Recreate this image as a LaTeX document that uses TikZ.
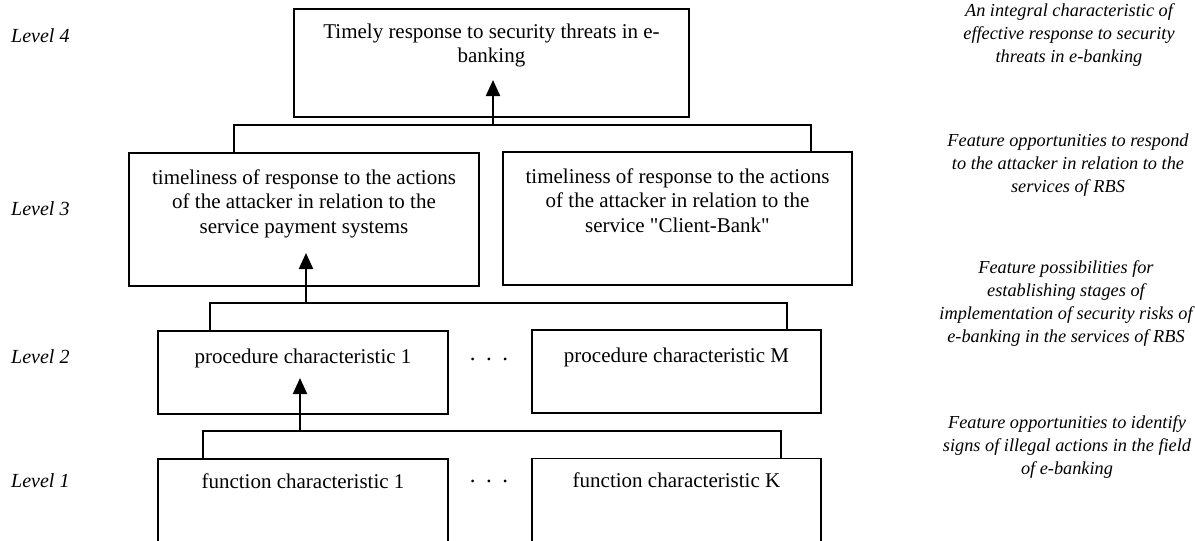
\documentclass[tikz,border=0pt]{standalone}
\usepackage{fontspec}
\setmainfont{Liberation Serif}
\usetikzlibrary{arrows.meta}
\newcommand\bxt[4]{\parbox[c][#2pt][t]{#1pt}{\centering\rule{0pt}{#3pt}#4\par}}
\begin{document}
\begin{tikzpicture}[x=1pt,y=-1pt,
  box/.style={draw, line width=1.6pt, inner sep=0pt, font=\fontsize{21}{24.5}\selectfont},
  link/.style={line width=1.6pt},
  up/.style={line width=2.2pt, -{Triangle[length=16pt,width=14pt]}},
  lvl/.style={anchor=base west, inner sep=0pt, font=\fontsize{20}{23}\selectfont\itshape},
  desc/.style={align=center, inner sep=0pt, font=\fontsize{18.3}{22.7}\selectfont\itshape},
  dots/.style={anchor=base, inner sep=0pt, font=\fontsize{23}{25}\selectfont}]
\useasboundingbox (0,0) rectangle (1195,541);
\clip (0,0) rectangle (1195,541);
% boxes
\node[box] (l4) at (491.5,63) {\bxt{395}{108}{29}{Timely response to security threats in e-\\banking}};
\node[box] (l3a) at (304,219.5) {\bxt{350}{133}{31}{timeliness of response to the actions\\of the attacker in relation to the\\service payment systems}};
\node[box] (l3b) at (677.5,218.5) {\bxt{349}{133}{31}{timeliness of response to the actions\\of the attacker in relation to the\\service \textquotedbl Client-Bank\textquotedbl}};
\node[box] (l2a) at (303,372.5) {\bxt{290}{83}{32}{procedure characteristic 1}};
\node[box] (l2b) at (676.5,371.5) {\bxt{289}{83}{32}{procedure characteristic M}};
\node[box] (l1a) at (303,501) {\bxt{290}{84}{29}{function characteristic 1}};
\node[box] (l1b) at (676.5,500.5) {\bxt{289}{84}{29}{function characteristic K}};
% dots
\node[dots] (d2) at (489,360) {.\hspace{10.5pt}.\hspace{10.5pt}.};
\node[dots] (d1) at (489,482) {.\hspace{10.5pt}.\hspace{10.5pt}.};
% connectors level 3 -> 4
\coordinate (j4L) at (234,125);
\coordinate (j4R) at (811,125);
\coordinate (a4) at (493,125);
\coordinate (t4) at (493,80);
\draw[link] (l3a.north -| j4L) -- (j4L) -- (j4R) -- (l3b.north -| j4R);
\draw[up] (a4) -- (t4);
% level 2 -> 3
\coordinate (j3L) at (210,303);
\coordinate (j3R) at (787,303);
\coordinate (a3) at (306,303);
\coordinate (t3) at (306,253);
\draw[link] (l2a.north -| j3L) -- (j3L) -- (j3R) -- (l2b.north -| j3R);
\draw[up] (a3) -- (t3);
% level 1 -> 2
\coordinate (j2L) at (203,431);
\coordinate (j2R) at (781,431);
\coordinate (a2) at (300,431);
\coordinate (t2) at (300,378);
\draw[link] (l1a.north -| j2L) -- (j2L) -- (j2R) -- (l1b.north -| j2R);
\draw[up] (a2) -- (t2);
% level labels
\node[lvl] (v4) at (11,42) {Level 4};
\node[lvl] (v3) at (11,215) {Level 3};
\node[lvl] (v2) at (11,363) {Level 2};
\node[lvl] (v1) at (11,487) {Level 1};
% descriptions
\node[desc] (e4) at (1069,35) {An integral characteristic of\\effective response to security\\threats in e-banking};
\node[desc] (e3) at (1068,165) {Feature opportunities to respond\\to the attacker in relation to the\\services of RBS};
\node[desc] (e2) at (1066,303.5) {Feature possibilities for\\establishing stages of\\implementation of security risks of\\e-banking in the services of RBS};
\node[desc] (e1) at (1067,447) {Feature opportunities to identify\\signs of illegal actions in the field\\of e-banking};
\end{tikzpicture}
\end{document}
